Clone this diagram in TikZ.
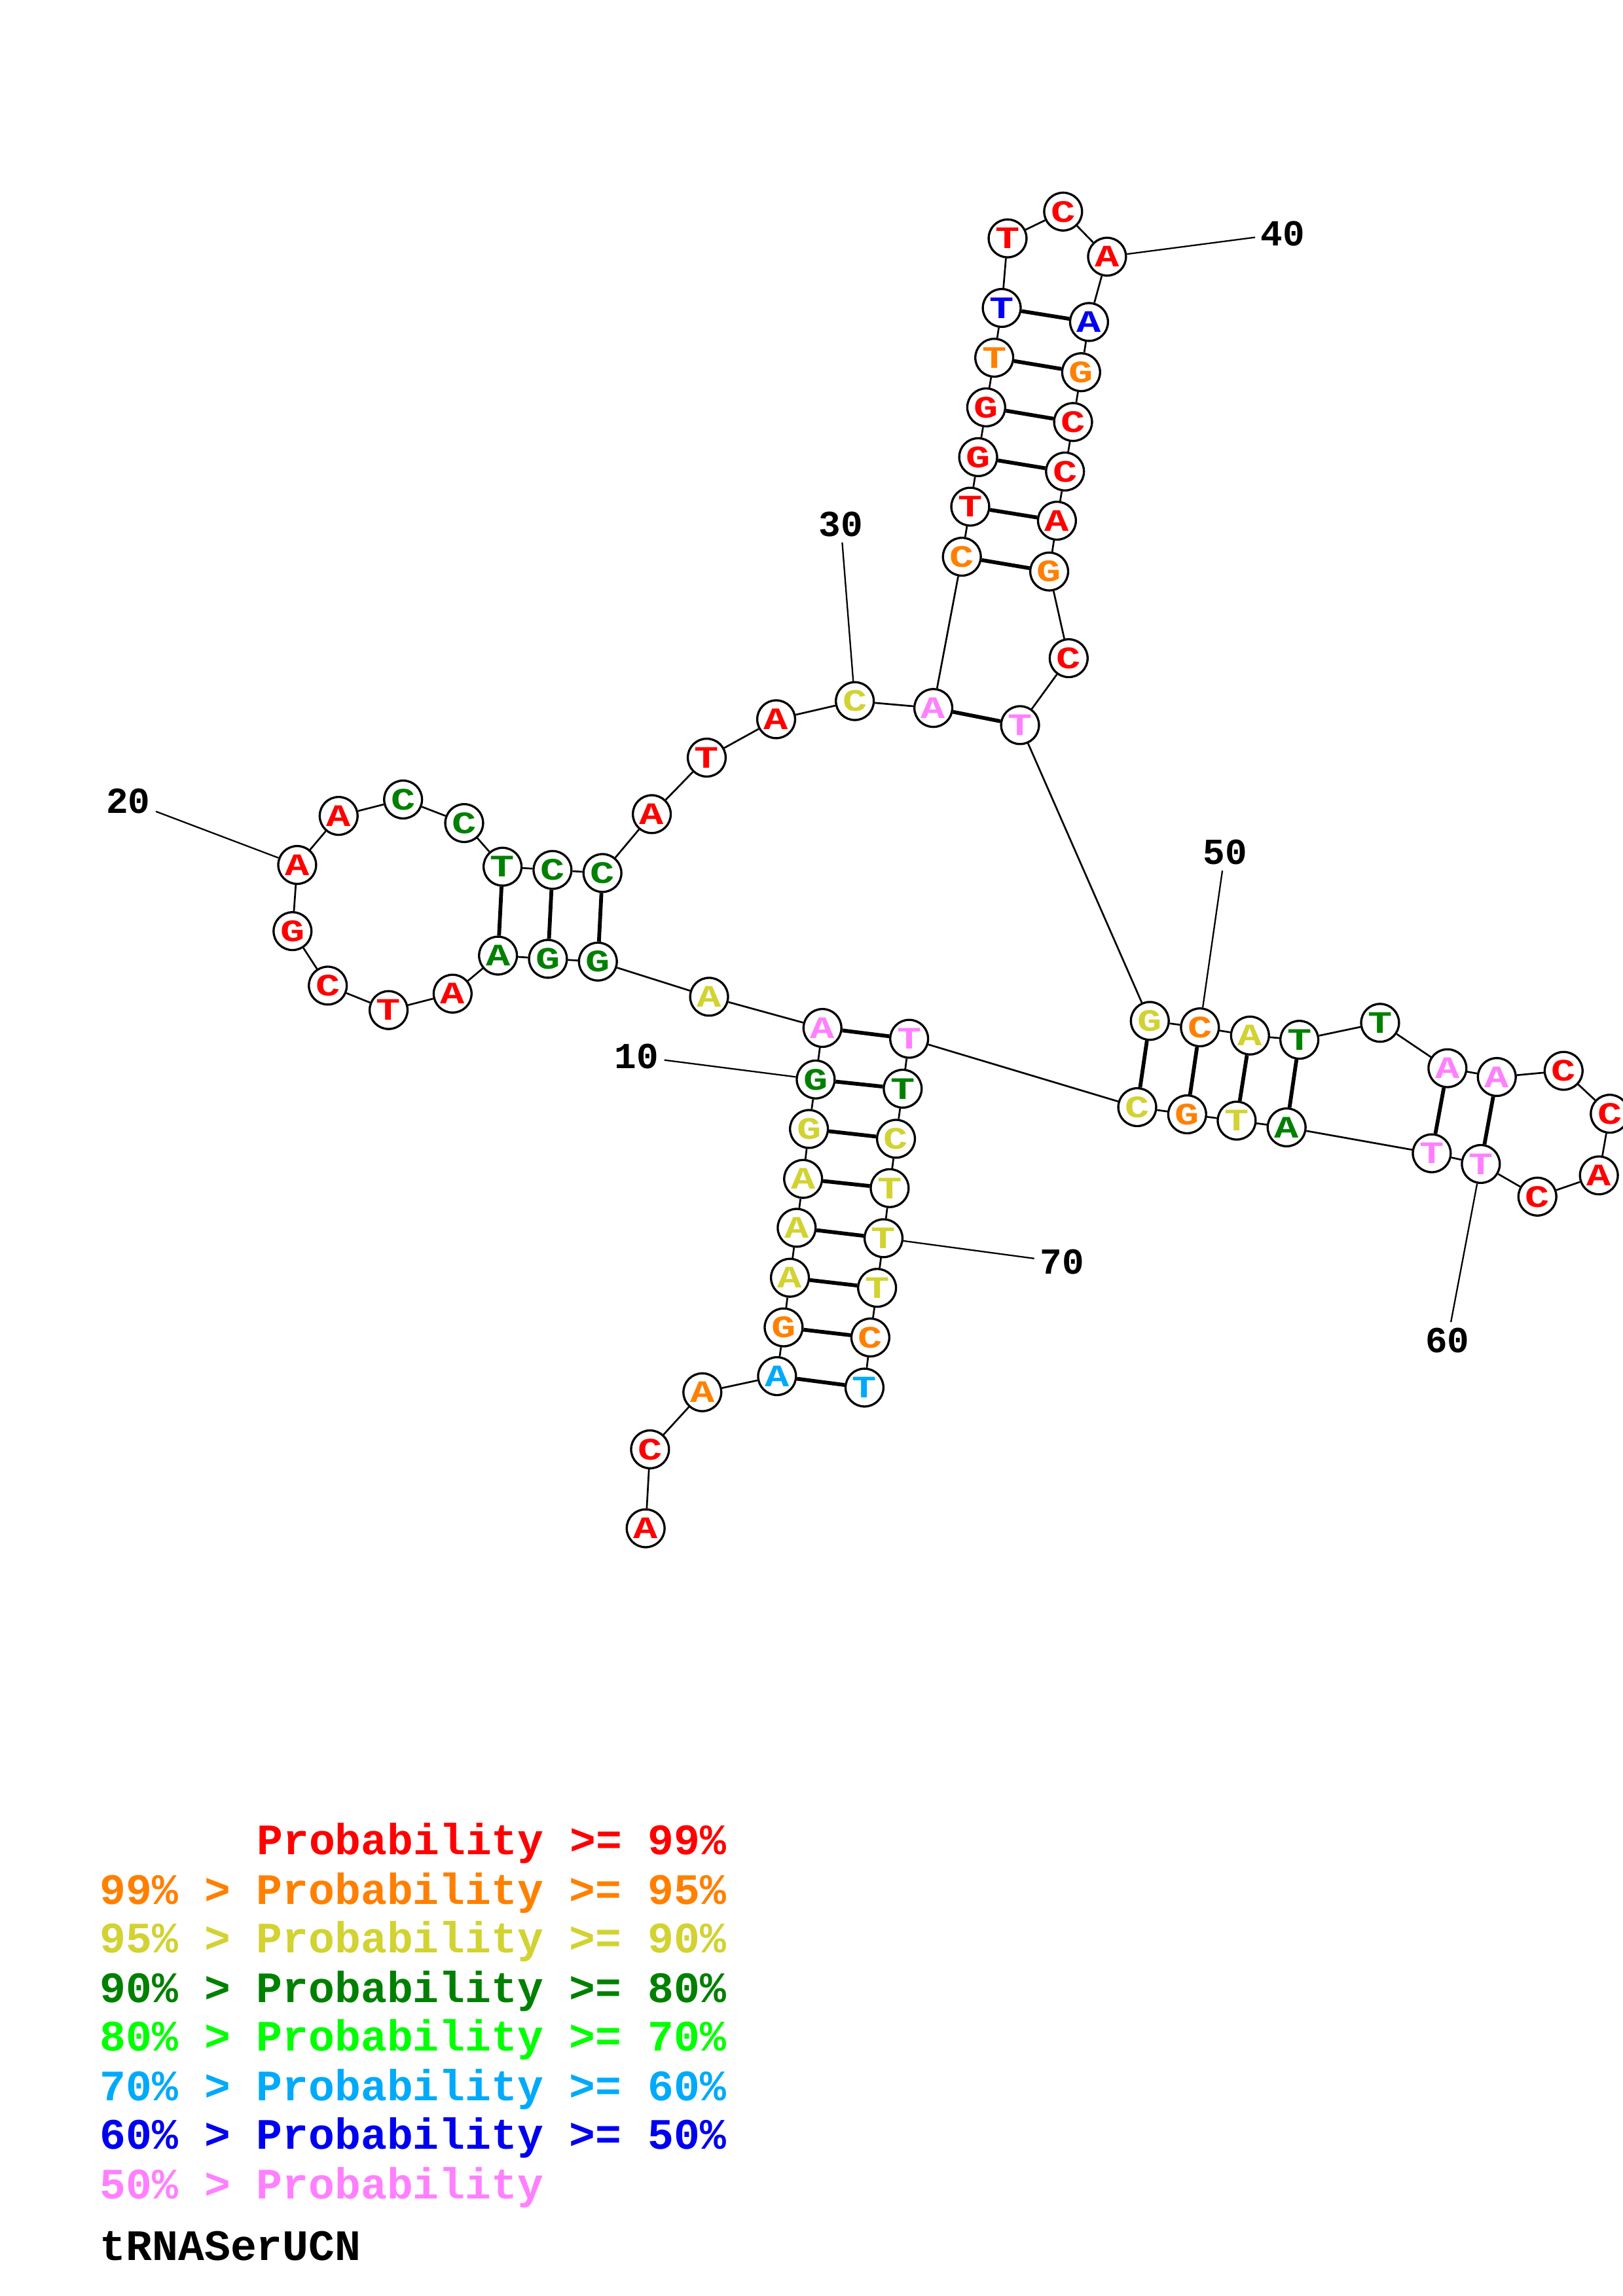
\documentclass[tikz,border=0pt]{standalone}
\usepackage{fontspec}
\newfontfamily\basefont{Liberation Mono}[FakeStretch=1.3,BoldFeatures={FakeStretch=1.3}]
\newfontfamily\legfont{Liberation Mono}
\definecolor{p99}{RGB}{255,0,0}
\definecolor{p95}{RGB}{255,128,0}
\definecolor{p90}{RGB}{210,210,50}
\definecolor{p80}{RGB}{0,128,0}
\definecolor{p70}{RGB}{0,255,0}
\definecolor{p60}{RGB}{0,170,250}
\definecolor{p50}{RGB}{0,0,240}
\definecolor{p00}{RGB}{255,128,255}

\begin{document}
\begin{tikzpicture}[x=0.018953cm,y=-0.018953cm,
  nt/.style={circle,draw,line width=0.8pt,fill=white,minimum size=0.49cm,inner sep=0pt,
    font={\basefont\bfseries\fontsize{11.5}{11.5}\selectfont}},
  bb/.style={line width=0.65pt},
  bp/.style={line width=1.4pt},
  lab/.style={line width=0.55pt},
  num/.style={inner sep=1.9pt,font={\legfont\bfseries\fontsize{13.5}{13.5}\selectfont}},
  leg/.style={anchor=base west,inner sep=0pt,font={\legfont\bfseries\fontsize{16}{16}\selectfont}}]
\useasboundingbox[fill=white] (0,0) rectangle (1108,1568);

\node[nt,text=p99] (n1) at (440.8,1043.7) {A};
\node[nt,text=p99] (n2) at (443.8,989.8) {C};
\node[nt,text=p95] (n3) at (479.5,950.8) {A};
\node[nt,text=p60] (n4) at (530.5,939.8) {A};
\node[nt,text=p95] (n5) at (535.0,906.5) {G};
\node[nt,text=p90] (n6) at (539.3,872.6) {A};
\node[nt,text=p90] (n7) at (543.9,838.5) {A};
\node[nt,text=p90] (n8) at (548.3,805.1) {A};
\node[nt,text=p90] (n9) at (552.3,771.0) {G};
\node[nt,text=p80] (n10) at (556.9,737.2) {G};
\node[nt,text=p00] (n11) at (561.5,702.0) {A};
\node[nt,text=p90] (n12) at (484.1,680.7) {A};
\node[nt,text=p80] (n13) at (408.2,656.7) {G};
\node[nt,text=p80] (n14) at (374.1,654.8) {G};
\node[nt,text=p80] (n15) at (340.0,652.6) {A};
\node[nt,text=p99] (n16) at (309.0,678.6) {A};
\node[nt,text=p99] (n17) at (265.3,689.8) {T};
\node[nt,text=p99] (n18) at (223.8,673.1) {C};
\node[nt,text=p99] (n19) at (199.7,635.9) {G};
\node[nt,text=p99] (n20) at (202.9,590.7) {A};
\node[nt,text=p99] (n21) at (231.2,557.2) {A};
\node[nt,text=p80] (n22) at (275.2,546.0) {C};
\node[nt,text=p80] (n23) at (316.9,562.1) {C};
\node[nt,text=p80] (n24) at (343.1,591.9) {T};
\node[nt,text=p80] (n25) at (377.2,594.1) {C};
\node[nt,text=p80] (n26) at (411.3,596.2) {C};
\node[nt,text=p99] (n27) at (445.0,556.0) {A};
\node[nt,text=p99] (n28) at (482.5,517.4) {T};
\node[nt,text=p99] (n29) at (529.9,491.2) {A};
\node[nt,text=p90] (n30) at (583.6,478.8) {C};
\node[nt,text=p00] (n31) at (637.2,483.5) {A};
\node[nt,text=p95] (n32) at (656.7,380.2) {C};
\node[nt,text=p99] (n33) at (662.4,346.0) {T};
\node[nt,text=p99] (n34) at (667.8,312.2) {G};
\node[nt,text=p99] (n35) at (673.3,278.2) {G};
\node[nt,text=p95] (n36) at (678.8,244.3) {T};
\node[nt,text=p50] (n37) at (683.9,210.3) {T};
\node[nt,text=p99] (n38) at (687.9,162.8) {T};
\node[nt,text=p99] (n39) at (725.8,144.5) {C};
\node[nt,text=p99] (n40) at (755.8,175.3) {A};
\node[nt,text=p50] (n41) at (743.5,219.9) {A};
\node[nt,text=p95] (n42) at (738.1,254.2) {G};
\node[nt,text=p99] (n43) at (732.6,288.2) {C};
\node[nt,text=p99] (n44) at (727.1,322.0) {C};
\node[nt,text=p99] (n45) at (721.6,355.6) {A};
\node[nt,text=p95] (n46) at (716.3,390.3) {G};
\node[nt,text=p99] (n47) at (729.6,449.5) {C};
\node[nt,text=p00] (n48) at (696.4,495.2) {T};
\node[nt,text=p90] (n49) at (785.0,697.2) {G};
\node[nt,text=p95] (n50) at (819.2,701.6) {C};
\node[nt,text=p90] (n51) at (853.4,707.2) {A};
\node[nt,text=p80] (n52) at (887.1,710.1) {T};
\node[nt,text=p80] (n53) at (942.2,698.5) {T};
\node[nt,text=p00] (n54) at (988.2,729.5) {A};
\node[nt,text=p00] (n55) at (1021.9,735.5) {A};
\node[nt,text=p99] (n56) at (1067.5,731.3) {C};
\node[nt,text=p99] (n57) at (1099.0,760.6) {C};
\node[nt,text=p99] (n58) at (1091.6,802.7) {A};
\node[nt,text=p99] (n59) at (1049.6,817.2) {C};
\node[nt,text=p00] (n60) at (1011.0,794.9) {T};
\node[nt,text=p00] (n61) at (977.5,787.6) {T};
\node[nt,text=p80] (n62) at (878.4,769.9) {A};
\node[nt,text=p90] (n63) at (844.3,765.3) {T};
\node[nt,text=p95] (n64) at (810.5,761.0) {G};
\node[nt,text=p90] (n65) at (776.4,756.1) {C};
\node[nt,text=p00] (n66) at (620.7,709.4) {T};
\node[nt,text=p80] (n67) at (616.3,743.5) {T};
\node[nt,text=p90] (n68) at (611.7,777.7) {C};
\node[nt,text=p90] (n69) at (607.4,811.4) {T};
\node[nt,text=p90] (n70) at (603.2,845.6) {T};
\node[nt,text=p90] (n71) at (598.8,879.5) {T};
\node[nt,text=p95] (n72) at (594.2,913.4) {C};
\node[nt,text=p60] (n73) at (590.2,947.6) {T};

\draw[bb] (n1)--(n2)--(n3)--(n4)--(n5)--(n6)--(n7)--(n8)--(n9)--(n10)--(n11)--(n12)
  --(n13)--(n14)--(n15)--(n16)--(n17)--(n18)--(n19)--(n20)--(n21)--(n22)--(n23)--(n24)
  --(n25)--(n26)--(n27)--(n28)--(n29)--(n30)--(n31)--(n32)--(n33)--(n34)--(n35)--(n36)
  --(n37)--(n38)--(n39)--(n40)--(n41)--(n42)--(n43)--(n44)--(n45)--(n46)--(n47)--(n48)
  --(n49)--(n50)--(n51)--(n52)--(n53)--(n54)--(n55)--(n56)--(n57)--(n58)--(n59)--(n60)
  --(n61)--(n62)--(n63)--(n64)--(n65)--(n66)--(n67)--(n68)--(n69)--(n70)--(n71)--(n72)
  --(n73);

\draw[bp] (n4)--(n73) (n5)--(n72) (n6)--(n71) (n7)--(n70) (n8)--(n69) (n9)--(n68)
  (n10)--(n67) (n11)--(n66);
\draw[bp] (n13)--(n26) (n14)--(n25) (n15)--(n24);
\draw[bp] (n31)--(n48) (n32)--(n46) (n33)--(n45) (n34)--(n44) (n35)--(n43) (n36)--(n42)
  (n37)--(n41);
\draw[bp] (n49)--(n65) (n50)--(n64) (n51)--(n63) (n52)--(n62) (n54)--(n61) (n55)--(n60);

\node[num] (l10) at (434.6,721.5) {10};
\node[num] (l20) at (87.5,547.0) {20};
\node[num] (l30) at (574.0,358.0) {30};
\node[num] (l40) at (875.8,159.6) {40};
\node[num] (l50) at (836.3,582.2) {50};
\node[num] (l60) at (988.2,915.3) {60};
\node[num] (l70) at (725.0,862.0) {70};
\draw[lab] (l10)--(n10) (l20)--(n20) (l30)--(n30) (l40)--(n40) (l50)--(n50)
  (l60)--(n60) (l70)--(n70);

\node[leg,text=p99] (k99) at (175,1266.5) {Probability >= 99\%};
\node[leg,text=p95] (k95) at (68,1300.5) {99\% > Probability >= 95\%};
\node[leg,text=p90] (k90) at (68,1333.5) {95\% > Probability >= 90\%};
\node[leg,text=p80] (k80) at (68,1367.5) {90\% > Probability >= 80\%};
\node[leg,text=p70] (k70) at (68,1400.5) {80\% > Probability >= 70\%};
\node[leg,text=p60] (k60) at (68,1434.5) {70\% > Probability >= 60\%};
\node[leg,text=p50] (k50) at (68,1467.5) {60\% > Probability >= 50\%};
\node[leg,text=p00] (k00) at (68,1501.5) {50\% > Probability};
\node[leg] (title) at (68,1543.5) {tRNASerUCN};
\end{tikzpicture}
\end{document}
